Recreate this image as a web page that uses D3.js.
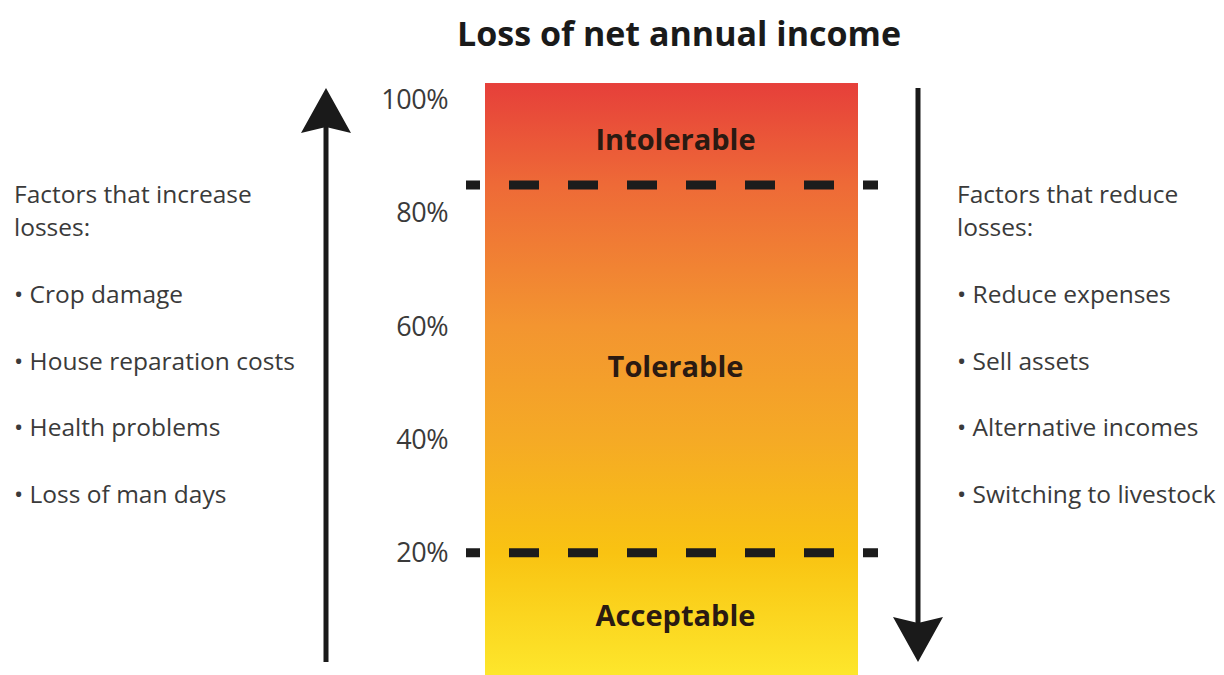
<!DOCTYPE html>
<html>
<head>
<meta charset="utf-8">
<script src="https://cdn.jsdelivr.net/npm/d3@7"></script>
<style>
  body { margin: 0; background: #ffffff; }
  svg { display: block; font-family: "Open Sans", Lato, sans-serif; }
</style>
</head>
<body>
<svg id="chart" width="1224" height="675"></svg>
<script>
// chart values
var title = 'Loss of net annual income';
var tickValues = [20, 40, 60, 80, 100];
var thresholds = [20, 85];
var bandExtent = [-2, 103];
var zones = [
  {name: 'Acceptable', from: 0, to: 20, labelAt: 8.5},
  {name: 'Tolerable', from: 20, to: 85, labelAt: 52.5},
  {name: 'Intolerable', from: 85, to: 100, labelAt: 92.5}
];
var gradientStops = [
  {value: 103, color: '#e63f3a'},
  {value: 85, color: '#ee6a37'},
  {value: 60, color: '#f39530'},
  {value: 40, color: '#f5aa25'},
  {value: 20, color: '#f9c312'},
  {value: -2, color: '#fde72c'}
];
var leftHeading = ['Factors that increase', 'losses:'];
var leftFactors = ['Crop damage', 'House reparation costs', 'Health problems', 'Loss of man days'];
var rightHeading = ['Factors that reduce', 'losses:'];
var rightFactors = ['Reduce expenses', 'Sell assets', 'Alternative incomes', 'Switching to livestock'];

(function(){
  'use strict';
  var svg = d3.select('#chart');
  var barLeft = 485, barRight = 858;
  var y = d3.scaleLinear().domain([0, 100]).range([666, 100]);
  var bandBottom = bandExtent[0], bandTop = bandExtent[1];

  // gradient
  var defs = svg.append('defs');
  var grad = defs.append('linearGradient')
    .attr('id', 'lossGrad')
    .attr('gradientUnits', 'userSpaceOnUse')
    .attr('x1', 0).attr('x2', 0)
    .attr('y1', y(bandTop)).attr('y2', y(bandBottom));
  var stopScale = d3.scaleLinear().domain([bandTop, bandBottom]).range([0, 1]);
  grad.selectAll('stop')
    .data(gradientStops)
    .enter()
    .append('stop')
    .attr('offset', function(d){ return stopScale(d.value); })
    .attr('stop-color', function(d){ return d.color; });

  svg.append('rect')
    .attr('x', barLeft)
    .attr('y', y(bandTop))
    .attr('width', barRight - barLeft)
    .attr('height', y(bandBottom) - y(bandTop))
    .style('fill', 'url(#lossGrad)');

  // title
  svg.append('text')
    .text(title)
    .attr('x', 679)
    .attr('y', 46)
    .style('text-anchor', 'middle')
    .style('font-size', '34px')
    .style('font-weight', 'bold')
    .style('fill', '#1a1a1a');

  // axis ticks (labels only)
  var axis = d3.axisLeft(y)
    .tickValues(tickValues)
    .tickFormat(function(d){ return d + '%'; })
    .tickSize(0)
    .tickPadding(0);
  var axisG = svg.append('g')
    .attr('transform', 'translate(448,0)')
    .call(axis);
  axisG.select('.domain').remove();
  axisG.selectAll('text')
    .style('font-family', '"Open Sans", Lato, sans-serif')
    .style('font-size', '27px')
    .style('letter-spacing', '-0.5px')
    .style('fill', '#3a3a3a');

  // dashed threshold lines
  svg.selectAll('line.threshold')
    .data(thresholds)
    .enter()
    .append('line')
    .attr('class', 'threshold')
    .attr('x1', 466)
    .attr('x2', 878)
    .attr('y1', function(d){ return y(d); })
    .attr('y2', function(d){ return y(d); })
    .style('stroke', '#1c1c1c')
    .style('stroke-width', 9)
    .style('stroke-dasharray', '30,29')
    .style('stroke-dashoffset', 16);

  // zone labels
  svg.selectAll('text.zone')
    .data(zones)
    .enter()
    .append('text')
    .attr('class', 'zone')
    .text(function(d){ return d.name; })
    .attr('x', (barLeft + barRight) / 2 + 4)
    .attr('y', function(d){ return y(d.labelAt); })
    .style('dominant-baseline', 'middle')
    .style('text-anchor', 'middle')
    .style('font-size', '29px')
    .style('font-weight', 'bold')
    .style('fill', '#2a1a12');

  // arrows
  function arrow(x, yStart, yEnd){
    var dir = yEnd < yStart ? -1 : 1;
    var headLen = 45, notch = 6, half = 25;
    var g = svg.append('g');
    g.append('line')
      .attr('x1', x).attr('x2', x)
      .attr('y1', yStart).attr('y2', yEnd - dir * (headLen - notch - 2))
      .style('stroke', '#1a1a1a')
      .style('stroke-width', 5);
    var base = yEnd - dir * headLen;
    g.append('path')
      .attr('d', 'M' + x + ',' + yEnd +
        'L' + (x + half) + ',' + base +
        'L' + x + ',' + (base + dir * notch) +
        'L' + (x - half) + ',' + base + 'Z')
      .style('fill', '#1a1a1a');
  }
  arrow(326, 662, 88);
  arrow(918, 88, 662);

  // factor lists
  function factorList(x, heading, items){
    var g = svg.append('g')
      .attr('transform', 'translate(' + x + ',0)')
      .style('font-size', '24.5px')
      .style('fill', '#3a3a3a');
    g.selectAll('text.head')
      .data(heading)
      .enter()
      .append('text')
      .attr('class', 'head')
      .attr('y', function(d, i){ return 203 + i * 33; })
      .text(function(d){ return d; });
    g.selectAll('text.item')
      .data(items)
      .enter()
      .append('text')
      .attr('class', 'item')
      .attr('y', function(d, i){ return 303 + i * 66.5; })
      .text(function(d){ return '\u2022 ' + d; });
  }
  factorList(14, leftHeading, leftFactors);
  factorList(957, rightHeading, rightFactors);
})();
</script>
</body>
</html>
